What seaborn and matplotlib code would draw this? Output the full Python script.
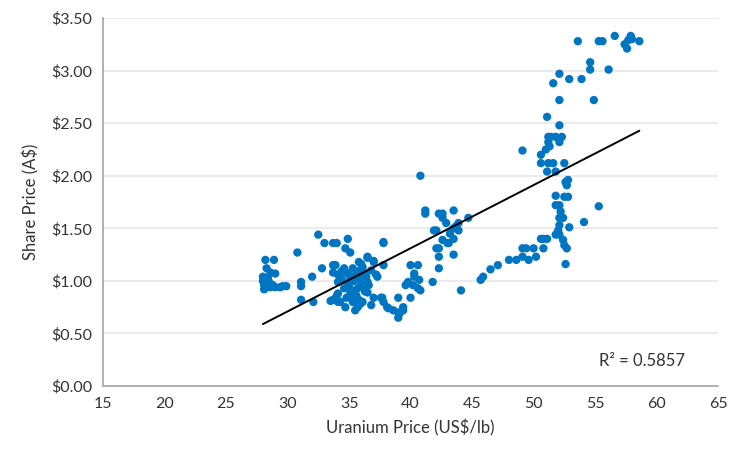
import numpy as np
import pandas as pd
import seaborn as sns
import matplotlib.pyplot as plt

# uranium price (US$/lb) vs share price (A$)
uranium = [
    28.0, 28.1, 28.2, 28.2, 28.3, 28.0, 28.1, 28.3, 28.5, 28.6, 28.4, 28.9, 29.0, 29.0, 29.4, 29.9, 29.6, 28.8, 28.6,
    30.8, 31.1, 31.1, 31.1, 32.0, 32.1, 32.5, 32.8, 33.0, 33.7, 34.0, 33.5, 33.7, 34.1,
    34.9, 37.8, 34.7, 35.1, 36.5, 37.0, 35.8, 33.9, 36.1, 34.6, 33.7, 34.1, 34.9, 35.7, 36.2, 37.2, 34.1, 35.1,
    35.9, 36.5, 34.6, 35.7, 36.2, 34.1, 35.1, 36.5, 33.7, 34.3, 35.3, 36.1, 37.0, 37.7, 34.7, 35.7, 36.8, 38.1,
    35.5, 35.9, 36.0, 35.9, 35.4, 35.0, 34.4, 35.6, 34.8, 36.0, 35.3, 36.4, 37.3, 36.6, 37.0, 37.8, 36.5, 35.5,
    34.4, 35.2, 36.8, 35.8, 34.9, 37.8, 35.2, 36.3, 34.0,
    38.2, 38.6, 39.0, 39.0, 39.1, 39.4, 39.4, 37.6, 37.8, 39.0, 40.0, 40.2, 39.8, 40.3, 40.7, 40.6, 40.8, 40.0,
    40.6, 41.8, 40.3, 39.6,
    41.9, 42.3, 42.3, 42.3, 43.0, 43.5, 44.1, 40.8, 41.2, 41.2, 42.3, 42.6, 42.6, 42.9, 43.5, 43.9, 43.5, 43.9,
    44.7, 42.1, 42.6, 43.1, 43.5, 42.1, 43.2, 43.7,
    45.7, 45.9, 46.5, 47.1, 48.0, 48.6, 49.1, 49.6, 49.1, 49.4, 50.0, 50.2, 50.8, 50.6, 50.8, 51.1, 49.1,
    51.8, 52.1, 52.0, 52.1, 52.1, 52.4, 51.8, 52.1, 51.8, 52.5, 52.8, 52.7, 52.8, 52.6, 52.4, 52.5, 52.7, 52.6,
    52.9, 54.1, 55.3, 52.2,
    50.6, 51.2, 51.6, 52.5, 51.1, 51.8, 50.6, 51.0, 51.3, 51.2, 52.1, 51.2, 51.4, 51.8, 52.3, 52.1, 51.1, 52.1,
    54.9, 51.6, 52.1, 52.9, 53.9, 54.6, 54.6, 56.1, 53.6, 55.3, 55.6, 56.6, 57.9, 57.7, 57.4, 57.6, 58.6, 58.0,
]
share = [
    1.04, 0.92, 0.98, 1.20, 1.12, 1.00, 0.96, 0.94, 0.99, 0.94, 1.03, 1.20, 1.07, 0.94, 0.94, 0.95, 0.95, 0.96, 1.08,
    1.27, 0.99, 0.95, 0.82, 1.04, 0.80, 1.44, 1.12, 1.36, 1.36, 1.36, 0.81, 1.15, 0.80,
    1.40, 1.37, 1.31, 1.27, 1.22, 1.19, 1.18, 1.15, 1.13, 1.12, 1.08, 1.06, 1.07, 1.08, 1.08, 1.06, 0.99, 1.03,
    1.03, 0.99, 0.93, 0.93, 0.94, 0.88, 0.88, 0.89, 0.82, 0.80, 0.80, 0.80, 0.84, 0.84, 0.75, 0.75, 0.77, 0.75,
    0.72, 0.78, 1.16, 1.10, 1.00, 0.96, 1.09, 0.86, 0.84, 0.97, 1.12, 1.04, 1.04, 0.96, 1.18, 1.36, 1.23, 1.05,
    1.02, 0.91, 1.10, 0.82, 0.98, 1.15, 0.85, 0.90, 0.86,
    0.74, 0.72, 0.70, 0.65, 0.69, 0.72, 0.75, 0.84, 0.80, 0.84, 0.84, 0.96, 0.99, 1.04, 1.01, 0.93, 0.91, 1.15,
    1.15, 0.99, 1.07, 0.96,
    1.48, 1.31, 1.23, 1.12, 1.36, 1.25, 0.91, 2.00, 1.67, 1.64, 1.64, 1.64, 1.60, 1.55, 1.67, 1.55, 1.50, 1.48,
    1.60, 1.48, 1.39, 1.36, 1.40, 1.31, 1.45, 1.52,
    1.01, 1.04, 1.11, 1.15, 1.20, 1.20, 1.23, 1.20, 1.31, 1.31, 1.31, 1.23, 1.31, 1.40, 1.40, 1.40, 2.24,
    1.44, 1.44, 1.48, 1.53, 1.60, 1.60, 1.72, 1.72, 1.81, 1.80, 1.80, 1.91, 1.96, 1.94, 1.39, 1.34, 1.31, 1.16,
    1.51, 1.56, 1.71, 1.66,
    2.12, 2.12, 2.12, 2.12, 2.04, 2.04, 2.20, 2.25, 2.28, 2.32, 2.32, 2.37, 2.37, 2.37, 2.37, 2.48, 2.56, 2.72,
    2.72, 2.88, 2.97, 2.92, 2.92, 3.08, 3.01, 3.01, 3.28, 3.28, 3.28, 3.33, 3.33, 3.29, 3.25, 3.21, 3.28, 3.30,
]
x_ticks = [15, 20, 25, 30, 35, 40, 45, 50, 55, 60, 65]
y_ticks = [0.0, 0.5, 1.0, 1.5, 2.0, 2.5, 3.0, 3.5]
r2_label = "R² = 0.5857"

df = pd.DataFrame({"uranium": uranium, "share": share})

sns.set_style("white")
plt.rcParams['font.family'] = ['Lato', 'DejaVu Sans']

fig = plt.figure(figsize=(7.32, 4.51), dpi=100)
ax = fig.add_axes([0.1407, 0.144, 0.8403, 0.816])

sns.regplot(data=df, x="uranium", y="share", ci=None, ax=ax,
            scatter_kws={"s": 36, "color": "#0075C2", "edgecolor": "none", "alpha": 1, "zorder": 3},
            line_kws={"color": "black", "linewidth": 1.4, "zorder": 4})

ax.set_xlim(15, 65)
ax.set_ylim(0, 3.5)
ax.set_xticks(x_ticks)
ax.set_yticks(y_ticks)
ax.set_yticklabels(["${:.2f}".format(v) for v in y_ticks])
ax.yaxis.grid(True, color="#EBEBEB", linewidth=1.5, zorder=0)
ax.set_axisbelow(True)

for side in ["top", "right"]:
    ax.spines[side].set_visible(False)
for side in ["left", "bottom"]:
    ax.spines[side].set_color("#A6A6A6")
    ax.spines[side].set_linewidth(1.2)
ax.tick_params(axis="both", direction="out", length=4, width=1, color="#A6A6A6",
               labelsize=11.5, labelcolor="#333333", pad=4)

ax.set_xlabel("Uranium Price (US$/lb)", fontsize=12, color="#333333", labelpad=6)
ax.set_ylabel("Share Price (A$)", fontsize=12, color="#333333", labelpad=8)

ax.text(58.8, 0.24, r2_label, ha="center", va="center", fontsize=12, color="#333333")

plt.savefig("out.png", dpi=100)
plt.close()
